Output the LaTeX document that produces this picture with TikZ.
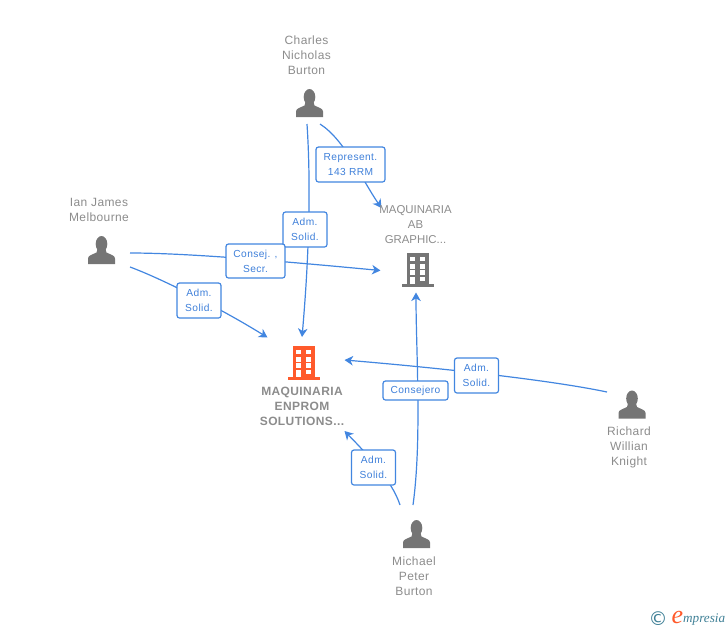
\documentclass[tikz,border=0pt]{standalone}
\usepackage{fontspec}
\setmainfont{Liberation Sans}
\newfontfamily\logofont{Liberation Serif}
\newfontfamily\symbfont{DejaVu Sans}
\newfontfamily\captfont[LetterSpace=3.2]{Liberation Sans}
\newfontfamily\edgefont[LetterSpace=4]{Liberation Sans}
\usetikzlibrary{arrows.meta,backgrounds}
\definecolor{linkblue}{HTML}{4286E0}
\definecolor{labelblue}{HTML}{3F80DA}
\definecolor{iconGrey}{HTML}{757575}
\definecolor{textGrey}{HTML}{8C8C8C}
\definecolor{orgOrange}{HTML}{FF5A2B}
\definecolor{logoTeal}{HTML}{3F8096}
\tikzset{
  x=1pt,y=-1pt,
  link/.style={draw=linkblue,line width=1.2pt,-{Stealth[length=8.5pt,width=9.5pt,inset=2.5pt]}},
  edgelabel/.style={draw=linkblue,line width=1.2pt,fill=white,rounded corners=2.5pt,inner sep=0pt,
    text=labelblue,align=center,font=\edgefont\fontsize{10.2}{15}\selectfont},
  caption/.style={text=textGrey,align=center,inner sep=0pt,font=\captfont\fontsize{12}{15}\selectfont},
  capscaption/.style={text=textGrey,align=center,inner sep=0pt,font=\fontsize{11.4}{15}\selectfont},
  boldcaption/.style={caption,font=\captfont\fontsize{12}{14.7}\selectfont\bfseries},
  person/.pic={
    \fill[iconGrey] (0,-6) ellipse[x radius=5.8,y radius=8];
    \fill[iconGrey] (-13.5,14) -- (-13.5,8.5) .. controls (-13.5,5.5) and (-10,5) .. (-5,2.5)
      -- (-4,-1) -- (4,-1) -- (5,2.5) .. controls (10,5) and (13.5,5.5) .. (13.5,8.5) -- (13.5,14) -- cycle;
  },
  building/.pic={
    \fill[#1] (-11,-17) rectangle (11,15);
    \fill[#1] (-16,14) rectangle (16,16.5);
    \fill[white] (-7.8,-13) rectangle (-2.8,-9);
    \fill[white] (2.2,-13) rectangle (7.2,-9);
    \fill[white] (-7.8,-5.7) rectangle (-2.8,-1.5);
    \fill[white] (2.2,-5.7) rectangle (7.2,-1.5);
    \fill[white] (-7.8,0.3) rectangle (-2.8,4.7);
    \fill[white] (2.2,0.3) rectangle (7.2,4.7);
    \fill[white] (-7.8,7) rectangle (-2.8,14);
    \fill[white] (2.2,7) rectangle (7.2,11);
  },
  building/.default=iconGrey
}
\begin{document}
\begin{tikzpicture}
\useasboundingbox (0,0) rectangle (728,630);
% icons
\pic at (309.5,103) {person};
\pic at (101.5,250) {person};
\pic at (632,404.5) {person};
\pic at (416.5,534) {person};
\pic at (304,363) {building=orgOrange};
\pic at (418,270) {building=iconGrey};
% captions
\node[caption] (charles) at (306.5,55) {Charles\\Nicholas\\Burton};
\node[caption] (ian) at (99,209.5) {Ian James\\Melbourne};
\node[caption] (richard) at (629,447) {Richard\\Willian\\Knight};
\node[caption] (michael) at (414,576) {Michael\\Peter\\Burton};
\node[capscaption] (ab) at (415.5,224.5) {MAQUINARIA\\AB\\GRAPHIC...};
\node[boldcaption] (enprom) at (302,406.5) {MAQUINARIA\\ENPROM\\SOLUTIONS...};
% edge labels
\node[edgelabel,minimum width=44pt,minimum height=35pt] (l1) at (305,229.5) {Adm.\\Solid.};
\node[edgelabel,minimum width=69pt,minimum height=35pt] (l2) at (350.5,164.5) {Represent.\\143 RRM};
\node[edgelabel,minimum width=44pt,minimum height=35pt] (l4) at (199,300.5) {Adm.\\Solid.};
\node[edgelabel,minimum width=59pt,minimum height=34pt] (l3) at (255.5,261) {Consej. ,\\Secr.};
\node[edgelabel,minimum width=44pt,minimum height=35pt] (l5) at (476.5,375.5) {Adm.\\Solid.};
\node[edgelabel,minimum width=65pt,minimum height=19pt] (l6) at (415.5,390.5) {\raisebox{-1.5pt}{Consejero}};
\node[edgelabel,minimum width=44pt,minimum height=35pt] (l7) at (373.5,467.5) {Adm.\\Solid.};
% connector ends
\coordinate (cS1) at (307,124);
\coordinate (cS2) at (320,124);
\coordinate (iS1) at (130,253);
\coordinate (iS2) at (130,267);
\coordinate (rS) at (607,392);
\coordinate (mS1) at (413,505);
\coordinate (mS2) at (400,505);
\coordinate (eT1) at (302,337);
\coordinate (eT2) at (267.5,337.5);
\coordinate (eT3) at (344.5,360);
\coordinate (eT4) at (344.5,431);
\coordinate (aT1) at (381.5,208);
\coordinate (aT2) at (380.5,270.5);
\coordinate (aT3) at (416,292.5);
\begin{pgfonlayer}{background}
\draw[link] (cS1) .. controls (312,200) and (307,280) .. (eT1);
\draw[link] (cS2) .. controls (345,140) and (362,180) .. (aT1);
\draw[link] (iS1) .. controls (190,253) and (290,262) .. (aT2);
\draw[link] (iS2) .. controls (160,278) and (220,308) .. (eT2);
\draw[link] (rS) .. controls (550,380) and (440,368) .. (eT3);
\draw[link] (mS1) .. controls (422,440) and (416,350) .. (aT3);
\draw[link] (mS2) .. controls (392,480) and (365,452) .. (eT4);
\end{pgfonlayer}
% logo
\node[text=logoTeal,inner sep=0pt,font=\symbfont\fontsize{19}{19}\selectfont] (copy) at (658,619) {©};
\node[text=orgOrange,inner sep=0pt,font=\logofont\itshape\fontsize{26}{26}\selectfont] (logoe) at (677.5,617) {e};
\node[text=logoTeal,inner sep=0pt,anchor=west,font=\logofont\itshape\fontsize{13.2}{14}\selectfont] (logot) at (683,620) {mpresia};
\end{tikzpicture}
\end{document}
